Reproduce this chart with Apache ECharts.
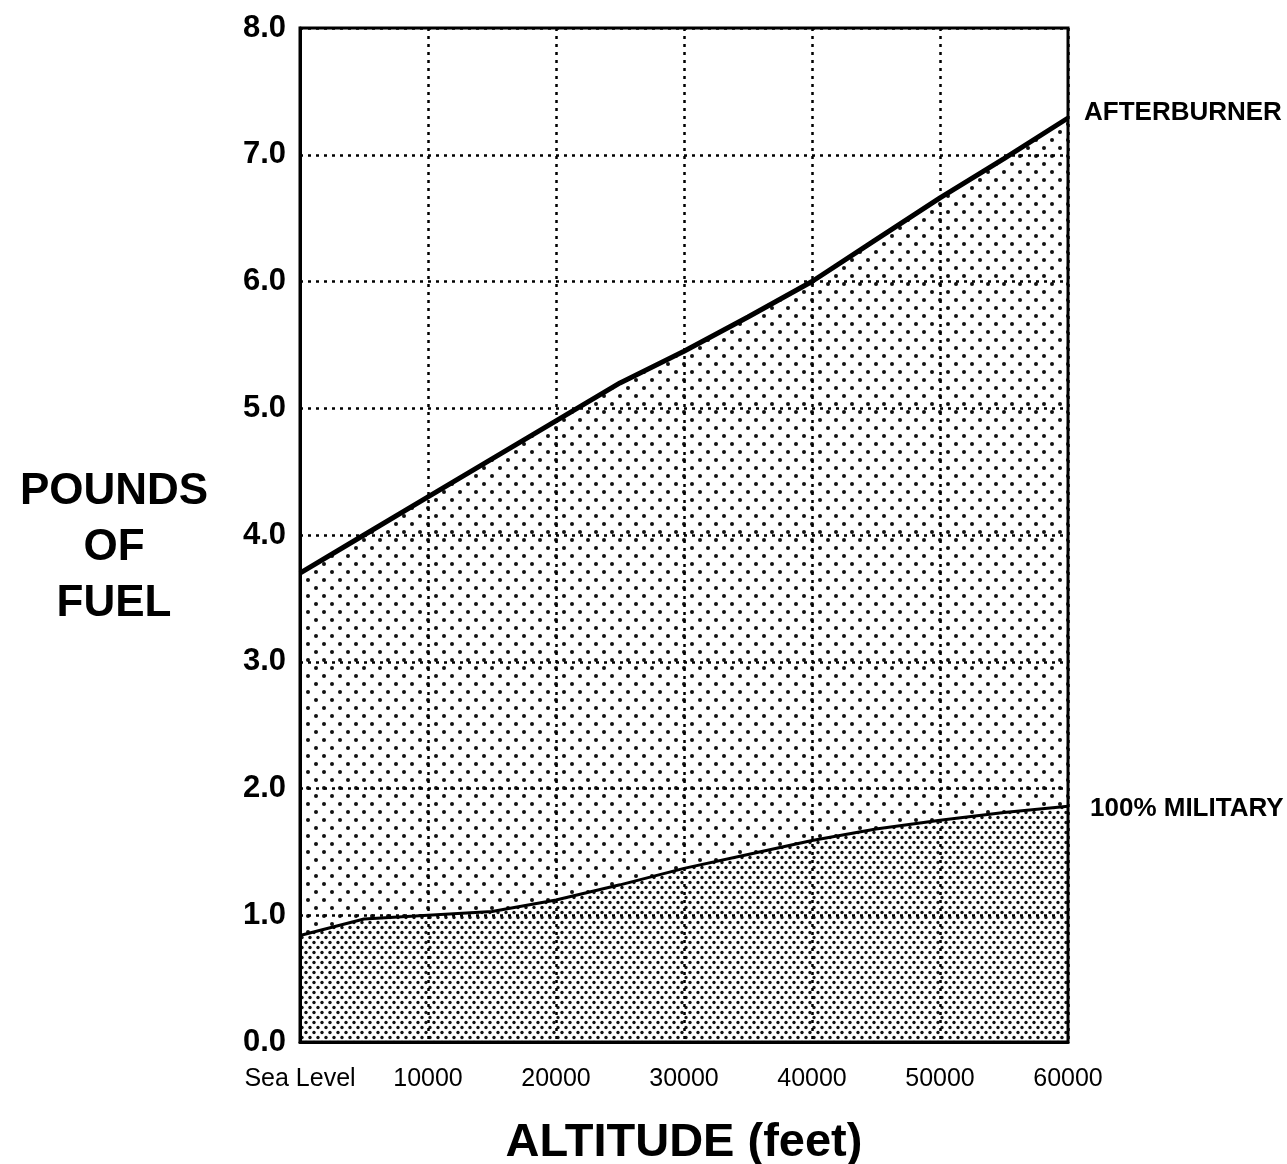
<!DOCTYPE html>
<html><head><meta charset="utf-8">
<script src="https://cdn.jsdelivr.net/npm/echarts@6/dist/echarts.min.js"></script>
<style>html,body{margin:0;padding:0;background:#fff}#c{width:1287px;height:1164px}</style>
</head><body><div id="c"></div>
<script>
const altitudes = [0, 5000, 10000, 15000, 20000, 25000, 30000, 35000, 40000, 45000, 50000, 55000, 60000];
const afterburner = [3.70, 4.00, 4.30, 4.60, 4.90, 5.20, 5.45, 5.72, 6.00, 6.33, 6.66, 6.97, 7.29];
const military = [0.84, 0.97, 1.00, 1.03, 1.12, 1.24, 1.37, 1.48, 1.59, 1.68, 1.75, 1.81, 1.86];
const yTicks = ['0.0','1.0','2.0','3.0','4.0','5.0','6.0','7.0','8.0'];
const xTickLabels = ['Sea Level','10000','20000','30000','40000','50000','60000'];

function pattern(w, h, pts, r) {
  const c = document.createElement('canvas');
  c.width = w; c.height = h;
  const g = c.getContext('2d');
  g.fillStyle = '#fff'; g.fillRect(0, 0, w, h);
  g.fillStyle = '#111';
  pts.forEach(p => { g.beginPath(); g.arc(p[0], p[1], r, 0, Math.PI * 2); g.fill(); });
  return c;
}
const sparse = pattern(16, 16, [[4,4],[12,12]], 2.0);
const dense = pattern(8, 10, [[2,2.5],[6,7.5]], 1.7);

const FONT = '"Liberation Sans",Arial,sans-serif';

const chart = echarts.init(document.getElementById('c'));
chart.setOption({
  backgroundColor: '#fff',
  animation: false,
  grid: { left: 300, right: 219, top: 28, bottom: 122, containLabel: false, outerBoundsMode: 'none',
    show: true, borderColor: '#000', borderWidth: 3, backgroundColor: 'transparent', z: 6 },
  xAxis: {
    type: 'value', min: 0, max: 60000, interval: 10000, z: 5,
    axisLine: { show: true, lineStyle: { color: '#000', width: 3 } },
    axisTick: { show: false },
    splitLine: { show: true, lineStyle: { color: '#000', width: 2.5, type: [3, 5] } },
    axisLabel: { color: '#000', fontFamily: FONT, fontSize: 25, margin: 25,
      formatter: v => xTickLabels[Math.round(v / 10000)] },
    name: 'ALTITUDE (feet)', nameLocation: 'middle', nameGap: 78,
    nameTextStyle: { color: '#000', fontFamily: FONT, fontWeight: 'bold', fontSize: 47 }
  },
  yAxis: {
    type: 'value', min: 0, max: 8, interval: 1, z: 5,
    axisLine: { show: true, lineStyle: { color: '#000', width: 3 } },
    axisTick: { show: false },
    splitLine: { show: true, lineStyle: { color: '#000', width: 2.5, type: [3, 5] } },
    axisLabel: { color: '#000', fontFamily: FONT, fontWeight: 'bold', fontSize: 31, margin: 14,
      formatter: v => yTicks[Math.round(v)] }
  },
  graphic: [{
    type: 'text', x: 114, y: 464,
    style: { text: 'POUNDS\nOF\nFUEL', fill: '#000', font: 'bold 44px ' + FONT, align: 'center', lineHeight: 56 }
  }],
  series: [
    {
      type: 'line', name: 'AFTERBURNER', data: altitudes.map((a, i) => [a, afterburner[i]]),
      symbol: 'none', smooth: false, z: 3,
      lineStyle: { color: '#000', width: 5 },
      areaStyle: { color: { image: sparse, repeat: 'repeat' }, opacity: 1 },
      endLabel: { show: true, formatter: 'AFTERBURNER', color: '#000', fontFamily: FONT, fontWeight: 'bold', fontSize: 26, offset: [8, -5] }
    },
    {
      type: 'line', name: '100% MILITARY', data: altitudes.map((a, i) => [a, military[i]]),
      symbol: 'none', smooth: false, z: 4,
      lineStyle: { color: '#000', width: 3 },
      areaStyle: { color: { image: dense, repeat: 'repeat' }, opacity: 1 },
      endLabel: { show: true, formatter: '100% MILITARY', color: '#000', fontFamily: FONT, fontWeight: 'bold', fontSize: 26, offset: [14, 3] }
    }
  ]
});
</script></body></html>
